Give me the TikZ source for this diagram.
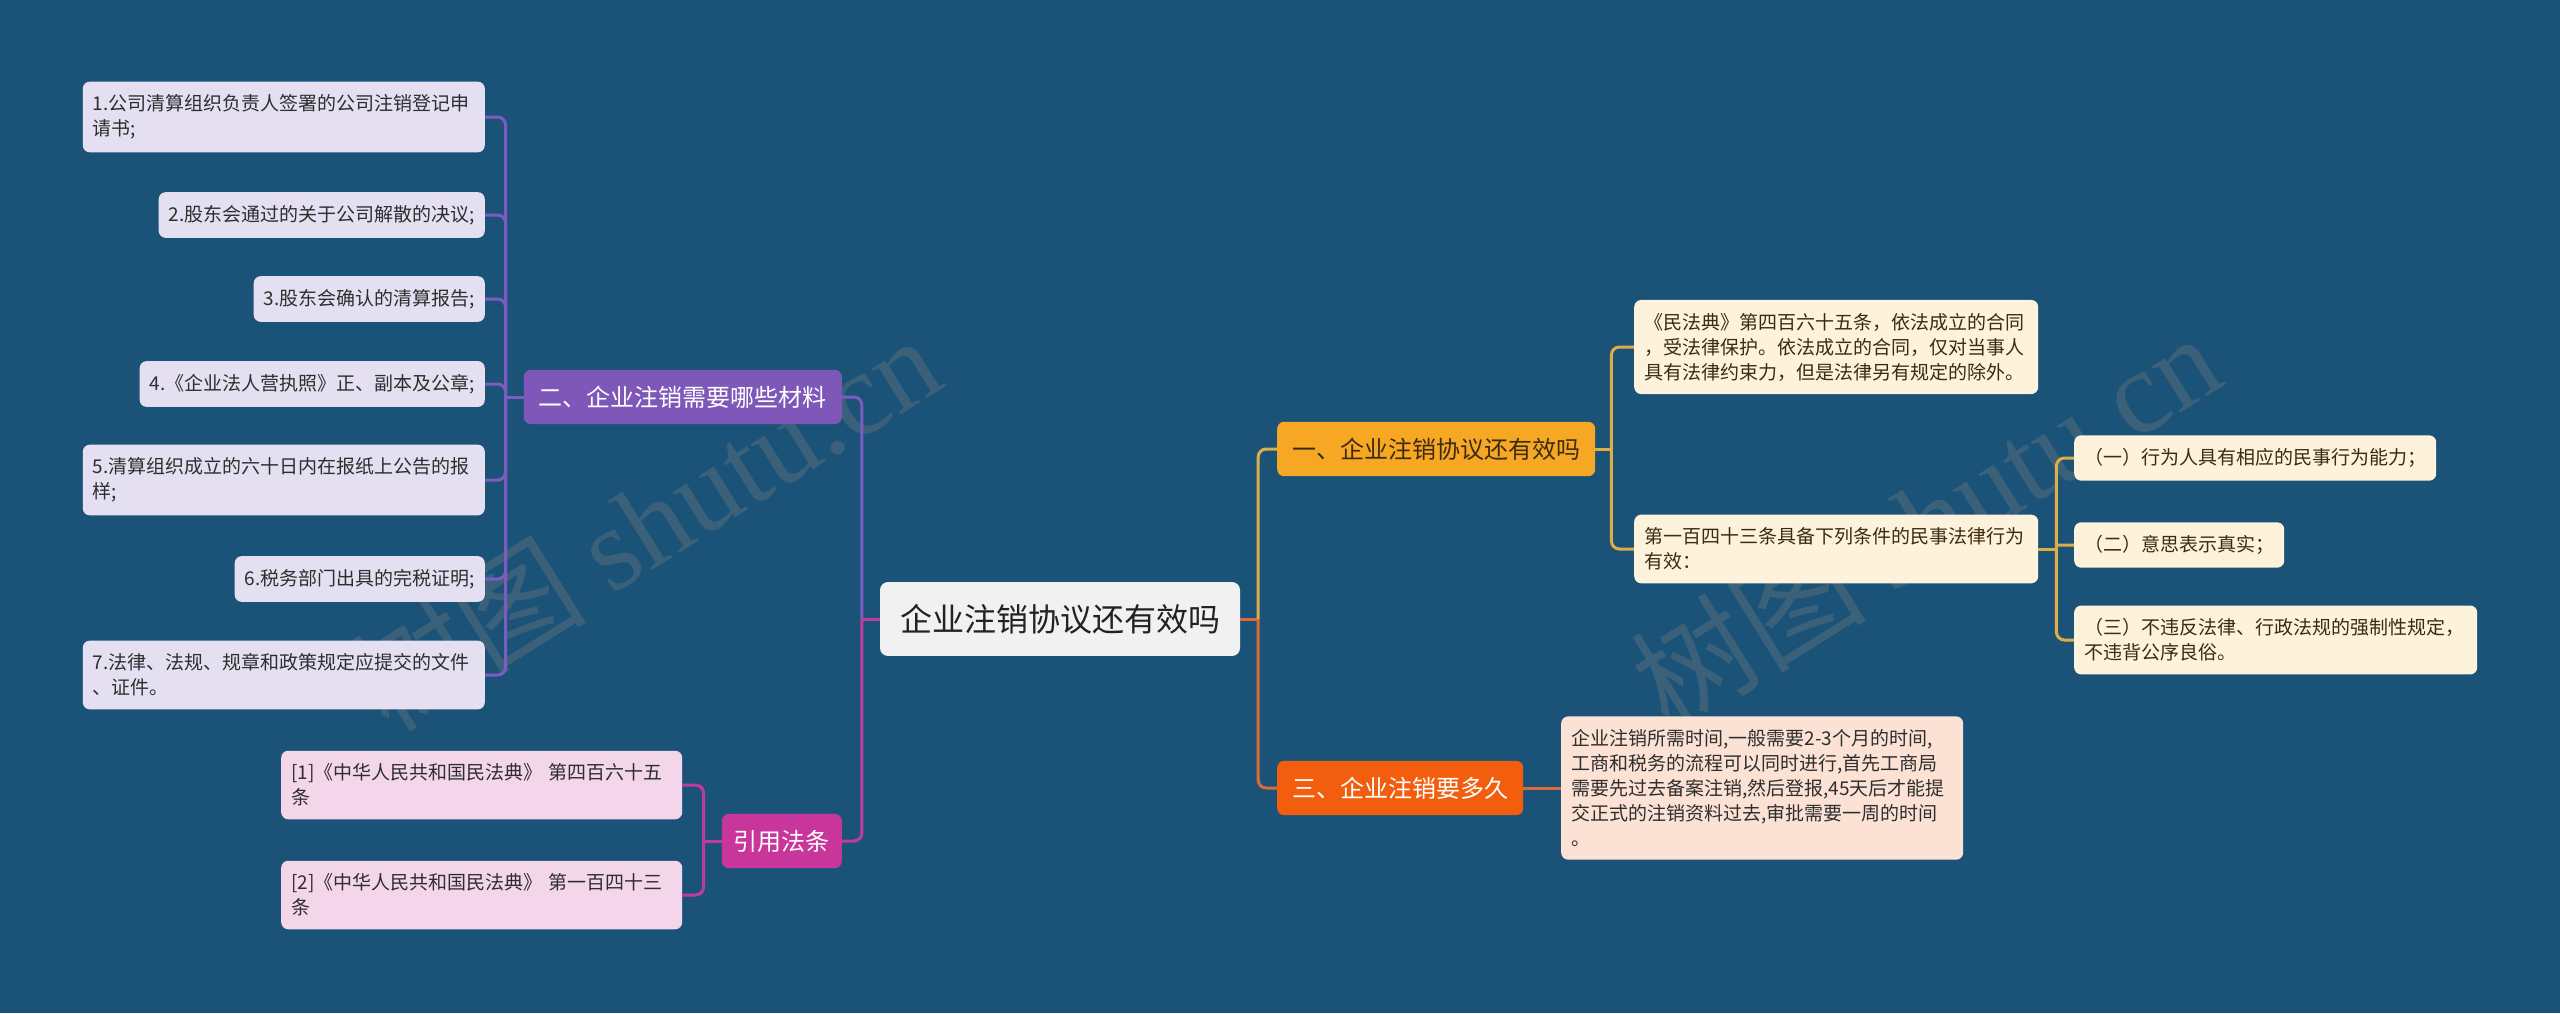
\documentclass[tikz,border=0pt]{standalone}
\usepackage{fontspec}
\setmainfont{Noto Sans CJK SC}
\newfontfamily\wmlatin{Liberation Serif}
\usetikzlibrary{calc}
\definecolor{bgc}{RGB}{27,83,120}
\definecolor{cfill}{HTML}{F1F1F1}
\definecolor{ctext}{HTML}{222222}
\definecolor{pfill}{HTML}{7E57B8}
\definecolor{pline}{HTML}{7C5CC0}
\definecolor{lfill}{HTML}{E4DFF1}
\definecolor{ltext}{HTML}{2E2E2E}
\definecolor{mfill}{HTML}{C8369B}
\definecolor{mline}{HTML}{C23A9E}
\definecolor{rfill}{HTML}{F4D6EA}
\definecolor{gfill}{HTML}{F6A724}
\definecolor{gline}{HTML}{DDAE48}
\definecolor{cream}{HTML}{FDF2DC}
\definecolor{btext}{HTML}{3D2B0E}
\definecolor{ofill}{HTML}{F25E0D}
\definecolor{oline}{HTML}{D96A3A}
\definecolor{peach}{HTML}{FCE2D5}
\begin{document}
\begin{tikzpicture}[x=1pt,y=-1pt,
  every node/.style={inner sep=0pt},
  rootbox/.style={fill=cfill, text=ctext, rounded corners=8pt, inner xsep=20pt, inner ysep=22pt, font=\fontsize{32}{38}\selectfont},
  branchbox/.style={rounded corners=7pt, inner xsep=15pt, inner ysep=16pt, font=\fontsize{24}{30}\selectfont},
  leafbox/.style={rounded corners=7pt, inner xsep=10pt, inner ysep=13pt, font=\fontsize{19}{25}\selectfont, align=left},
  link/.style={line width=3pt, rounded corners=8pt},
  wm/.style={text=gray, opacity=0.32, rotate=32, font=\fontsize{118}{130}\selectfont}
]
\useasboundingbox (0,0) rectangle (2560,1013);
\fill[bgc] (0,0) rectangle (2560,1013);

% watermarks
\node[wm] (wm1) at (645,522) {树图 {\wmlatin shutu.cn}};
\node[wm] (wm2) at (1925,520) {树图 {\wmlatin shutu.cn}};

% root
\node[rootbox] (c) at (1060,619) {企业注销协议还有效吗};

% left branches
\node[branchbox, fill=pfill, text=white, anchor=east] (er) at (842,397) {二、企业注销需要哪些材料};
\node[branchbox, fill=mfill, text=white, anchor=east, inner xsep=12pt] (yin) at (842,841) {引用法条};

% leaves of er
\node[leafbox, fill=lfill, text=ltext, anchor=east, text width=382pt] (l1) at (485,117) {1.公司清算组织负责人签署的公司注销登记申\\请书;};
\node[leafbox, fill=lfill, text=ltext, anchor=east] (l2) at (485,215) {2.股东会通过的关于公司解散的决议;};
\node[leafbox, fill=lfill, text=ltext, anchor=east] (l3) at (485,299) {3.股东会确认的清算报告;};
\node[leafbox, fill=lfill, text=ltext, anchor=east] (l4) at (485,384) {4.《企业法人营执照》正、副本及公章;};
\node[leafbox, fill=lfill, text=ltext, anchor=east, text width=382pt] (l5) at (485,480) {5.清算组织成立的六十日内在报纸上公告的报\\样;};
\node[leafbox, fill=lfill, text=ltext, anchor=east] (l6) at (485,579) {6.税务部门出具的完税证明;};
\node[leafbox, fill=lfill, text=ltext, anchor=east, text width=382pt] (l7) at (485,675) {7.法律、法规、规章和政策规定应提交的文件\\、证件。};

% refs
\node[leafbox, fill=rfill, text=ltext, anchor=west, text width=381pt] (r1) at (281,785) {[1]《中华人民共和国民法典》 第四百六十五\\条};
\node[leafbox, fill=rfill, text=ltext, anchor=west, text width=381pt] (r2) at (281,895) {[2]《中华人民共和国民法典》 第一百四十三\\条};

% right branches
\node[branchbox, fill=gfill, text=btext, anchor=west] (yi) at (1277,449) {一、企业注销协议还有效吗};
\node[branchbox, fill=ofill, text=white, anchor=west] (san) at (1277,788) {三、企业注销要多久};

\node[leafbox, fill=cream, text=btext, anchor=west, text width=384pt] (dA) at (1634,347) {《民法典》第四百六十五条，依法成立的合同\\，受法律保护。依法成立的合同，仅对当事人\\具有法律约束力，但是法律另有规定的除外。};
\node[leafbox, fill=cream, text=btext, anchor=west, text width=384pt] (dB) at (1634,549) {第一百四十三条具备下列条件的民事法律行为\\有效：};

\node[leafbox, fill=cream, text=btext, anchor=west] (s1) at (2074,458) {（一）行为人具有相应的民事行为能力；};
\node[leafbox, fill=cream, text=btext, anchor=west] (s2) at (2074,545) {（二）意思表示真实；};
\node[leafbox, fill=cream, text=btext, anchor=west, text width=383pt] (s3) at (2074,640) {（三）不违反法律、行政法规的强制性规定，\\不违背公序良俗。};

\node[leafbox, fill=peach, text=ltext, anchor=west, text width=382pt] (sd) at (1561,788) {企业注销所需时间,一般需要2-3个月的时间,\\工商和税务的流程可以同时进行,首先工商局\\需要先过去备案注销,然后登报,45天后才能提\\交正式的注销资料过去,审批需要一周的时间\\。};

% bus coordinates
\coordinate (busL) at ($(c.west)+(-18,0)$);
\coordinate (busR) at ($(c.east)+(18,0)$);
\coordinate (busE) at ($(er.west)+(-18,0)$);
\coordinate (busY) at ($(yin.west)+(-18,0)$);
\coordinate (busA) at ($(yi.east)+(16,0)$);
\coordinate (busB) at ($(dB.east)+(18,0)$);

% root connectors
\draw[link, mline] (c.west) -- (busL);
\draw[link, pline] (busL) |- (er.east);
\draw[link, mline] (busL) |- (yin.east);
\draw[link, oline] (c.east) -- (busR);
\draw[link, gline] (busR) |- (yi.west);
\draw[link, oline] (busR) |- (san.west);

% er connectors
\draw[link, pline] (er.west) -- (busE);
\foreach \n in {l1,l2,l3,l4,l5,l6,l7} { \draw[link, pline] (busE) |- (\n.east); }

% yin connectors
\draw[link, mline] (yin.west) -- (busY);
\draw[link, mline] (busY) |- (r1.east);
\draw[link, mline] (busY) |- (r2.east);

% yi connectors
\draw[link, gline] (yi.east) -- (busA);
\draw[link, gline] (busA) |- (dA.west);
\draw[link, gline] (busA) |- (dB.west);

% dB connectors
\draw[link, gline] (dB.east) -- (busB);
\draw[link, gline] (busB) |- (s1.west);
\draw[link, gline, rounded corners=2pt] (busB) |- (s2.west);
\draw[link, gline] (busB) |- (s3.west);

% san connector
\draw[link, oline] (san.east) -- (sd.west);
\end{tikzpicture}
\end{document}
